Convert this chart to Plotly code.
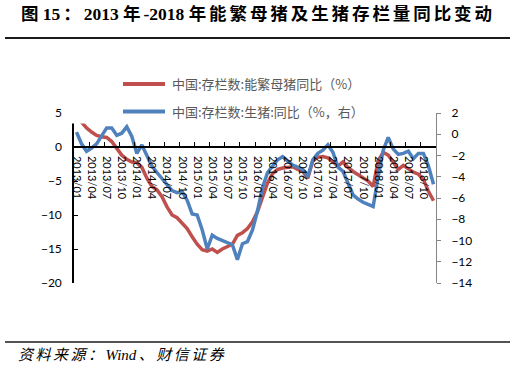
import plotly.graph_objects as go

# ---- data ----
months = [f"{y}/{m:02d}" for y in range(2013, 2019) for m in range(1, 13)]

sows_yoy = [4.5, 3.7, 2.8, 2.2, 1.7, 1.5, 1.4, 0.8, -0.3, -1.2, -1.8, -2.2,
            -2.3, -3.0, -4.6, -5.8, -6.3, -7.3, -8.8, -10.0, -10.4, -11.2, -12.0, -13.2,
            -14.3, -15.1, -15.3, -15.0, -15.5, -15.0, -14.6, -14.3, -13.0, -12.6, -12.0, -11.0,
            -9.5, -7.3, -5.3, -3.9, -3.3, -3.1, -3.0, -2.9, -3.3, -3.6, -4.6, -2.0,
            -1.5, -1.4, -1.6, -2.2, -2.8, -2.2, -3.0, -3.6, -4.1, -4.6, -5.0, -5.8,
            -2.0, -0.8, -1.2, -2.2, -3.3, -2.7, -3.2, -3.7, -4.0, -4.8, -6.5, -7.9]

hogs_yoy = [0.2, -0.9, -1.6, -1.3, -0.9, -0.2, 0.6, 0.6, -0.1, 0.1, 0.7, -0.2,
            -1.8, -1.0, -2.0, -3.0, -3.6, -4.2, -4.8, -5.3, -5.5, -5.4, -6.2, -7.5,
            -7.6, -9.0, -10.8, -9.5, -9.8, -10.0, -10.2, -10.4, -11.8, -10.3, -10.1, -9.0,
            -7.2, -5.0, -3.6, -3.0, -2.4, -2.1, -2.5, -2.9, -3.1, -3.3, -4.0, -2.4,
            -1.8, -1.5, -1.0, -1.7, -3.1, -3.5, -4.6, -5.7, -6.1, -6.4, -6.6, -6.8,
            -4.0, -1.5, -0.3, -1.4, -1.9, -1.8, -1.6, -2.3, -1.8, -1.8, -3.0, -4.7]

name_sows = "中国:存栏数:能繁母猪同比（%）"
name_hogs = "中国:存栏数:生猪:同比（%，右）"
title_text = "图 15：2013 年-2018 年能繁母猪及生猪存栏量同比变动"
source_text = "资料来源：Wind、财信证券"

RED = "#C0504D"
BLUE = "#4F81BD"

W, H = 515, 372
L, R, T, B = 74, 436, 113, 283  # plot area in px

def px(xp):
    return (xp - L) / (R - L)

def py(yp):
    return (B - yp) / (B - T)

def letter_space(s, gap):
    # insert a narrow space between characters, but not inside runs of ASCII letters/digits
    out = s[0]
    for a, b in zip(s, s[1:]):
        if a.isascii() and b.isascii() and a != " " and b != " ":
            out += b
        elif a == " " or b == " ":
            out += b
        else:
            out += gap + b
    return out

fig = go.Figure()
fig.add_trace(go.Scatter(x=months, y=sows_yoy, mode="lines", name=name_sows,
                         line=dict(color=RED, width=3.5), yaxis="y"))
fig.add_trace(go.Scatter(x=months, y=hogs_yoy, mode="lines", name=name_hogs,
                         line=dict(color=BLUE, width=3.5), yaxis="y2"))

tickfont = dict(family="Lato, Liberation Sans, sans-serif", size=12, color="#000000")

fig.update_layout(
    width=W, height=H,
    margin=dict(l=L, r=W - R, t=T, b=H - B, pad=0),
    paper_bgcolor="white", plot_bgcolor="white",
    showlegend=False,
    xaxis=dict(type="category", categoryorder="array", categoryarray=months,
               range=[-0.5, len(months) - 0.5],
               anchor="free", position=0.8,
               tickmode="linear", tick0=0, dtick=3, tickson="boundaries",
               ticks="inside", ticklen=4, tickcolor="#000000", tickwidth=1,
               tickangle=90, tickfont=dict(family="Lato, Liberation Sans, sans-serif", size=11, color="#000000"),
               ticklabelstandoff=6,
               showline=True, linecolor="#000000", linewidth=1.5,
               showgrid=False, zeroline=False),
    yaxis=dict(range=[-20, 5], dtick=5, tick0=0,
               ticks="inside", ticklen=4, tickcolor="#000000",
               showline=True, linecolor="#000000", linewidth=1.5,
               showgrid=False, zeroline=False, tickfont=tickfont,
               ticklabelstandoff=8),
    yaxis2=dict(range=[-14, 2], dtick=2, tick0=0, overlaying="y", side="right",
                ticks="outside", ticklen=4, tickcolor="#868686",
                showline=True, linecolor="#868686", linewidth=1,
                showgrid=False, zeroline=False, tickfont=tickfont,
                ticklabelstandoff=8),
)

shapes = []
# legend white box covering top of plot
shapes.append(dict(type="rect", xref="paper", yref="paper",
                   x0=px(66), x1=px(372), y0=py(70), y1=py(123.5),
                   fillcolor="white", line=dict(width=0), layer="above"))
# legend swatches
shapes.append(dict(type="line", xref="paper", yref="paper",
                   x0=px(123), x1=px(165), y0=py(84), y1=py(84),
                   line=dict(color=RED, width=4), layer="above"))
shapes.append(dict(type="line", xref="paper", yref="paper",
                   x0=px(123), x1=px(165), y0=py(111.5), y1=py(111.5),
                   line=dict(color=BLUE, width=4), layer="above"))
# title rule and footer rule
shapes.append(dict(type="line", xref="paper", yref="paper",
                   x0=px(5), x1=px(510), y0=py(38), y1=py(38),
                   line=dict(color="#1a1a1a", width=2), layer="above"))
shapes.append(dict(type="line", xref="paper", yref="paper",
                   x0=px(5), x1=px(510), y0=py(342), y1=py(342),
                   line=dict(color="#1a1a1a", width=1.5), layer="above"))
fig.update_layout(shapes=shapes)

legfont = dict(family="Noto Sans CJK SC, sans-serif", size=13, color="#595959")
spaced_title = letter_space(title_text, "\u2006")
spaced_src = letter_space(source_text, "\u2006")

annotations = [
    dict(text=name_sows, xref="paper", yref="paper", x=px(170), y=py(84),
         xanchor="left", yanchor="middle", showarrow=False, font=legfont),
    dict(text=name_hogs, xref="paper", yref="paper", x=px(170), y=py(111.5),
         xanchor="left", yanchor="middle", showarrow=False, font=legfont),
    dict(text=spaced_title, xref="paper", yref="paper", x=px(19), y=py(14),
         xanchor="left", yanchor="middle", showarrow=False,
         font=dict(family="Liberation Serif, Noto Sans CJK SC, serif", size=17.5,
                   color="#000000", weight="bold")),
    dict(text=spaced_src, xref="paper", yref="paper", x=px(16), y=py(355),
         xanchor="left", yanchor="middle", showarrow=False,
         font=dict(family="Liberation Serif, Noto Sans CJK SC, serif", size=15,
                   color="#000000", style="italic")),
]
fig.update_layout(annotations=annotations)

fig.write_html("out.html")
